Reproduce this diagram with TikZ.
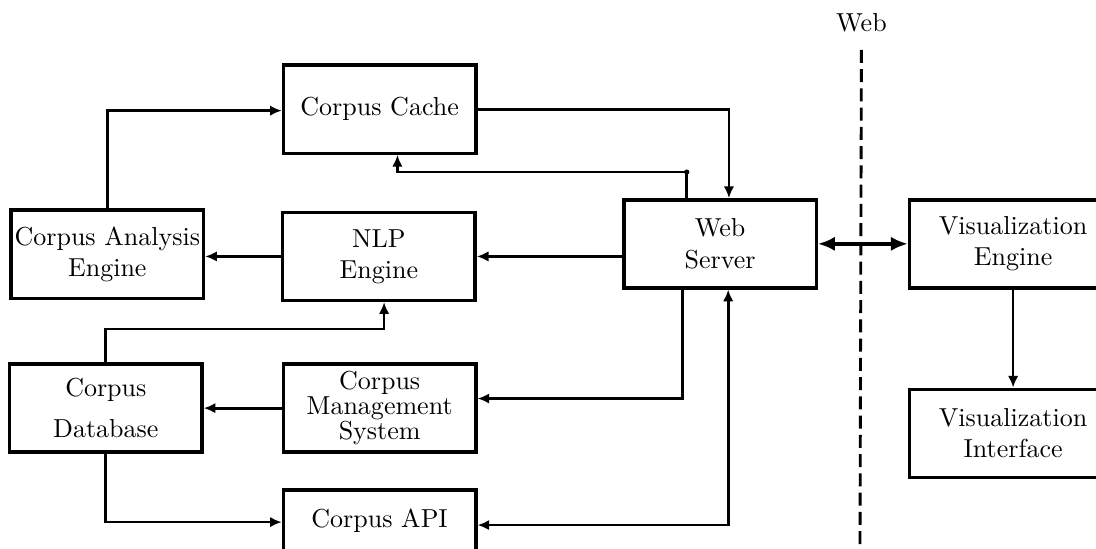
\documentclass[tikz,border=0pt]{standalone}
\usetikzlibrary{arrows.meta, positioning}

\begin{document}
\begin{tikzpicture}[>={Latex[length=4.5pt,width=4pt]},
  block/.style={draw, line width=1.3pt, minimum width=2.6cm, minimum height=1.19cm,
                inner sep=0pt, align=center},
  wide block/.style={block, minimum width=2.8cm},
  link/.style={line width=1.05pt}]
  \useasboundingbox (0,0) rectangle (14.81,7.405);

  % Components
  \node[block] (cache)  at (5.13,5.93) {Corpus Cache};
  \node[block] (cae)    at (1.45,3.97) {Corpus Analysis\\Engine};
  \node[block] (nlp)    at (5.12,3.94) {NLP\\Engine};
  \node[block] (web)    at (9.73,4.11) {Web\\Server};
  \node[wide block] (viseng) at (13.69,4.11) {Visualization\\Engine};
  \node[wide block] (visint) at (13.69,1.55) {Visualization\\Interface};
  \node[block] (db)     at (1.43,1.89) {Corpus\\[4pt]Database};
  \node[block] (cms)    at (5.13,1.89) {Corpus\\[-2.5pt]Management\\[-2.5pt]System};
  \node[block] (api)    at (5.13,0.19) {Corpus API\\\mbox{}};

  % Web boundary
  \node (weblabel) at (11.64,7.1) {Web};
  \draw[line width=1.1pt, dash pattern=on 5pt off 2.4pt]
    ([yshift=-0.12cm]weblabel.south) -- (11.62,-0.3);

  % Cache links
  \draw[link, ->] (cae.north) |- ([yshift=-0.02cm]cache.west);
  \draw[link, ->] (cache.east) -| ([xshift=0.12cm]web.north);
  \coordinate (tap) at (9.28,5.08);
  \draw[link] (web.north -| tap) -- (tap);
  \draw[link, ->] (tap) -| ([xshift=0.24cm]cache.south);
  \fill (tap) circle (1pt);

  % Engine links
  \draw[link, ->] (web.west |- nlp.east) -- (nlp.east);
  \draw[link, ->] (nlp.west) -- (nlp.west -| cae.east);
  \draw[link, ->] (db.north) -- ++(0,0.45) -| ([xshift=0.07cm]nlp.south);

  % Database links
  \draw[link, ->] (cms.west) -- (cms.west -| db.east);
  \draw[link, ->] (db.south) |- ([yshift=0.16cm]api.west);
  \draw[link, ->] ([xshift=-0.51cm]web.south) |- ([yshift=0.13cm]cms.east);
  \draw[link, <->] ([xshift=0.11cm]web.south) |- ([yshift=0.12cm]api.east);

  % Visualization side
  \draw[line width=1.6pt, {Latex[length=6.5pt,width=5.5pt]}-{Latex[length=6.5pt,width=5.5pt]}]
    (web.east) -- (viseng.west);
  \draw[link, ->] (viseng.south) -- (visint.north);
\end{tikzpicture}
\end{document}
